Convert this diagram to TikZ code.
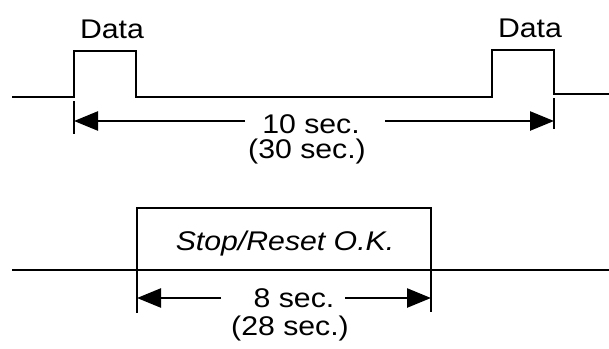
\documentclass[tikz,border=0pt]{standalone}
\usepackage{fontspec}
\setmainfont{Liberation Sans}[FakeStretch=1.12]
\usetikzlibrary{arrows.meta}
\begin{document}
\begin{tikzpicture}[x=1pt,y=-1pt,
  sig/.style={line width=2.5pt, line join=miter},
  tick/.style={line width=2.2pt},
  dimarrow/.style={line width=2.5pt, -{Triangle[length=24pt,width=19pt]}},
  lbl/.style={anchor=base, inner sep=0pt, font=\fontsize{27}{30}\selectfont},
  pulsebox/.style={draw, line width=2.5pt, minimum width=294pt, minimum height=62pt, inner sep=0pt}]
\path[use as bounding box] (0,0) rectangle (609,348);
% ---------- top signal ----------
\coordinate (s0) at (12,97);
\coordinate (p1a) at (74,97);
\coordinate (p1b) at (74,51);
\coordinate (p1c) at (136,51);
\coordinate (p1d) at (136,97);
\coordinate (p2a) at (492,97);
\coordinate (p2b) at (492,50);
\coordinate (p2c) at (554,50);
\coordinate (p2d) at (554,94);
\coordinate (s1) at (609,94);
\draw[sig] (s0) -- (p1a) -- (p1b) -- (p1c) -- (p1d) -- (p2a) -- (p2b) -- (p2c) -- (p2d) -- (s1);
\node[lbl] (d1) at (112,38) {Data};
\node[lbl] (d2) at (530,37) {Data};
% ticks
\coordinate (k1a) at (74,101);
\coordinate (k1b) at (74,134);
\coordinate (k2a) at (554,98);
\coordinate (k2b) at (554,129);
\draw[tick] (k1a) -- (k1b);
\draw[tick] (k2a) -- (k2b);
\node[lbl] (ten) at (311,133) {10 sec.};
\node[lbl] (thirty) at (307,158) {(30 sec.)};
\coordinate (a1s) at (245,121);
\coordinate (a1e) at (74,121);
\coordinate (a2s) at (385,121);
\coordinate (a2e) at (554,121);
\draw[dimarrow] (a1s) -- (a1e);
\draw[dimarrow] (a2s) -- (a2e);
% ---------- bottom signal ----------
\coordinate (b0) at (12,270);
\coordinate (b1) at (609,270);
\draw[sig] (b0) -- (b1);
\node[pulsebox] (box) at (284,239) {};
\node[lbl, font=\fontsize{27}{30}\selectfont\itshape] (stop) at (285,250) {Stop/Reset O.K.};
\coordinate (k3a) at (137,270);
\coordinate (k3b) at (137,313);
\coordinate (k4a) at (431,270);
\coordinate (k4b) at (431,312);
\draw[tick] (k3a) -- (k3b);
\draw[tick] (k4a) -- (k4b);
\node[lbl] (eight) at (294,307) {8 sec.};
\node[lbl] (twenty) at (290,335) {(28 sec.)};
\coordinate (a3s) at (221,298);
\coordinate (a3e) at (137,298);
\coordinate (a4s) at (345,298);
\coordinate (a4e) at (431,298);
\draw[dimarrow] (a3s) -- (a3e);
\draw[dimarrow] (a4s) -- (a4e);
\end{tikzpicture}
\end{document}
